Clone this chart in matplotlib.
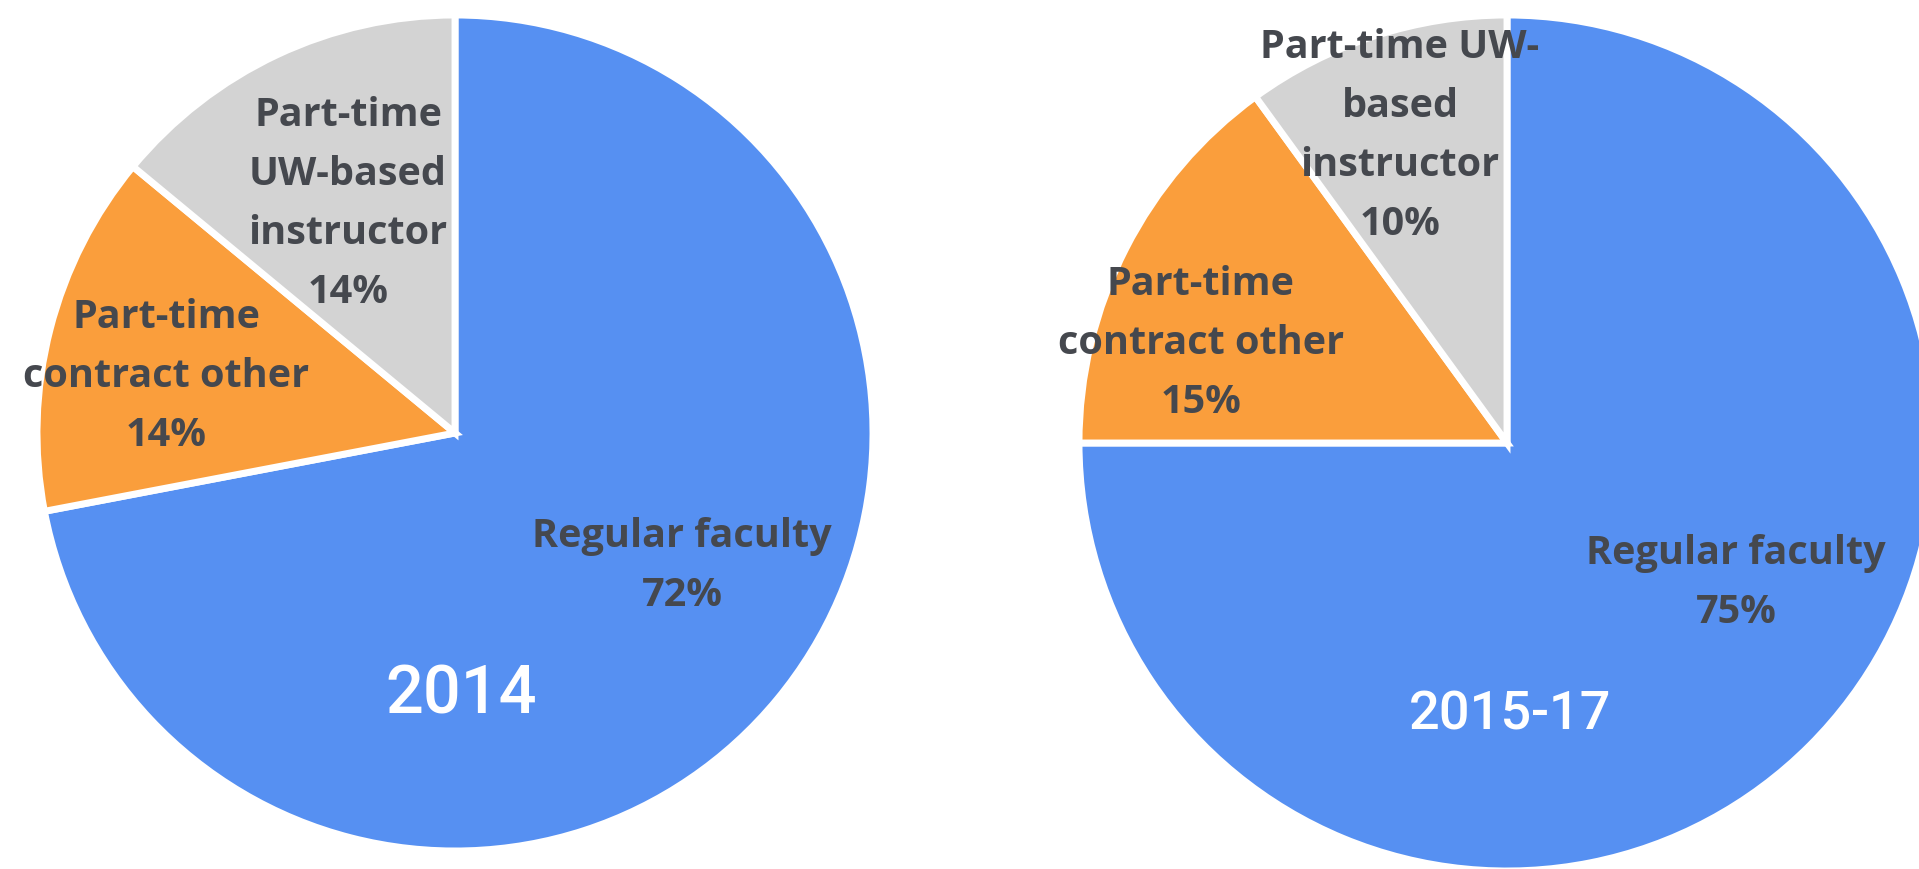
import matplotlib
matplotlib.use("Agg")
import matplotlib.pyplot as plt

# ---- data ----
categories = ["Regular faculty", "Part-time contract other", "Part-time UW-based instructor"]
years = ["2014", "2015-17"]
values_2014 = [72, 14, 14]
values_2015_17 = [75, 15, 10]
labels_2014 = ["Regular faculty", "Part-time\ncontract other", "Part-time\nUW-based\ninstructor"]
labels_2015_17 = ["Regular faculty", "Part-time\ncontract other", "Part-time UW-\nbased\ninstructor"]
colors = ["#5690F2", "#FA9E3C", "#D3D3D3"]

# ---- layout (pixel coordinates, y measured from top) ----
W, H = 1919, 869
LABEL_COLOR = "#45484e"
PITCH = 59

pies = [
    dict(values=values_2014, labels=labels_2014, year=years[0],
         center=(455, 433), radius=418,
         label_xy=[(682, 547), (166, 328), (348, 126)],   # x center, first baseline
         year_xy=(461, 713), year_size=48),
    dict(values=values_2015_17, labels=labels_2015_17, year=years[1],
         center=(1507, 443), radius=428,
         label_xy=[(1736, 564), (1201, 295), (1400, 58)],
         year_xy=(1510, 730), year_size=39),
]

fig = plt.figure(figsize=(W / 100, H / 100), dpi=100)
ax = fig.add_axes([0, 0, 1, 1])

for p in pies:
    cx, cy = p["center"]
    ax.pie(p["values"], colors=colors, startangle=90, counterclock=False,
           center=(cx, H - cy), radius=p["radius"],
           wedgeprops=dict(edgecolor="white", linewidth=5, antialiased=True),
           frame=False)
    for lab, val, (lx, ly) in zip(p["labels"], p["values"], p["label_xy"]):
        lines = lab.split("\n") + [f"{val}%"]
        for i, line in enumerate(lines):
            ax.text(lx, H - (ly + i * PITCH), line, ha="center", va="baseline",
                    fontsize=28.5, fontweight="bold", family="Open Sans",
                    color=LABEL_COLOR)
    yx, yy = p["year_xy"]
    ax.text(yx, H - yy, p["year"], ha="center", va="baseline",
            fontsize=p["year_size"], family="Roboto", fontweight="medium",
            color="white")

ax.set_xlim(0, W)
ax.set_ylim(0, H)
ax.set_aspect("equal")
ax.axis("off")

fig.savefig("out.png", dpi=100, facecolor="white")
